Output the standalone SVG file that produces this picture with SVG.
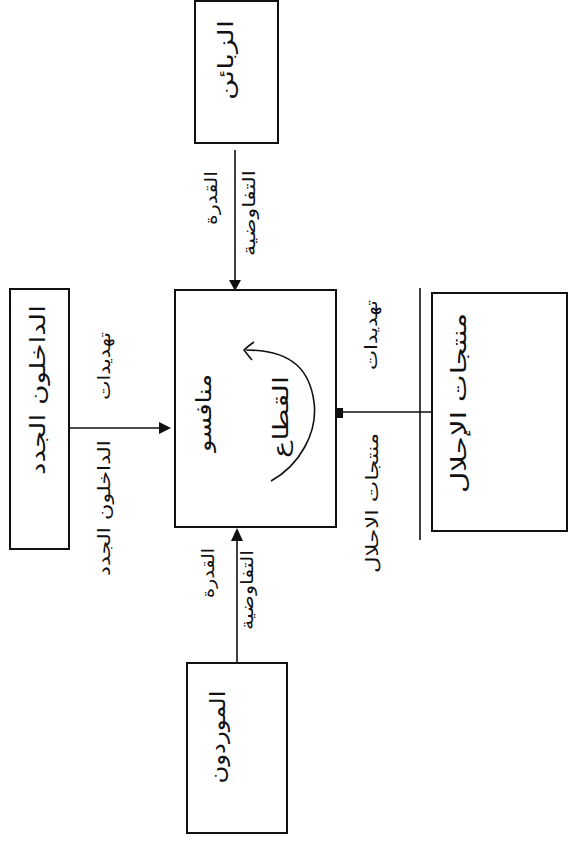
<svg xmlns="http://www.w3.org/2000/svg" width="569" height="843" viewBox="0 0 569 843">
<defs>
<style>
.box{fill:none;stroke:#111;stroke-width:2}
.ln{fill:none;stroke:#111;stroke-width:1.6}
.hd{fill:#111;stroke:none}
.t{font-family:"DejaVu Sans",sans-serif;fill:#111;text-anchor:middle;dominant-baseline:central}
.big{font-size:21px}
.sm{font-size:17px}
</style>
</defs>
<rect width="569" height="843" fill="#fff"/>
<g id="connectors">
<line class="ln" x1="235" y1="150" x2="235" y2="282"/>
<polygon class="hd" points="229,280 241,280 235,291"/>
<line class="ln" x1="69" y1="428" x2="162" y2="428"/>
<polygon class="hd" points="159,422 159,434 171,428"/>
<line class="ln" x1="237" y1="663" x2="237" y2="538"/>
<polygon class="hd" points="231,541 243,541 237,528"/>
<line class="ln" x1="432" y1="412" x2="342" y2="412"/>
<rect class="hd" x="337" y="408" width="6" height="10"/>
</g>
<g id="customers">
<rect class="box" x="195" y="1" width="83" height="142"/>
<text class="t big" transform="translate(226,60) rotate(-90)" textLength="80" lengthAdjust="spacingAndGlyphs">الزبائن</text>
</g>
<g id="customers-label">
<text class="t sm" transform="translate(211,198) rotate(-90)" textLength="54" lengthAdjust="spacingAndGlyphs">القدرة</text>
<text class="t sm" transform="translate(249,213) rotate(-90)" textLength="86" lengthAdjust="spacingAndGlyphs">التفاوضية</text>
</g>
<g id="new-entrants">
<rect class="box" x="10" y="289" width="59" height="260"/>
<text class="t big" transform="translate(38,390) rotate(-90)" textLength="170" lengthAdjust="spacingAndGlyphs">الداخلون الجدد</text>
</g>
<g id="new-entrants-label">
<text class="t sm" transform="translate(104,366) rotate(-90)" textLength="68" lengthAdjust="spacingAndGlyphs">تهديدات</text>
<text class="t sm" transform="translate(104,508) rotate(-90)" textLength="136" lengthAdjust="spacingAndGlyphs">الداخلون الجدد</text>
</g>
<g id="rivals">
<rect class="box" x="175" y="290" width="161" height="237"/>
<text class="t big" transform="translate(204,413) rotate(-90)" textLength="78" lengthAdjust="spacingAndGlyphs">منافسو</text>
<text class="t big" transform="translate(281,417) rotate(-90)" textLength="82" lengthAdjust="spacingAndGlyphs">القطاع</text>
<path class="ln" d="M 271 481 C 300 465 318 432 314 402 C 310 372 294 350 246 350"/>
<path class="ln" d="M 254 342 Q 247 347 244 350 Q 247 354 252 360"/>
</g>
<g id="substitutes">
<line class="ln" x1="420" y1="288" x2="420" y2="540"/>
<rect class="box" x="432" y="293" width="135" height="238"/>
<text class="t big" transform="translate(459,403) rotate(-90)" textLength="180" lengthAdjust="spacingAndGlyphs">منتجات الإحلال</text>
</g>
<g id="substitutes-label">
<text class="t sm" transform="translate(371,335) rotate(-90)" textLength="70" lengthAdjust="spacingAndGlyphs">تهديدات</text>
<text class="t sm" transform="translate(372,503) rotate(-90)" textLength="140" lengthAdjust="spacingAndGlyphs">منتجات الاحلال</text>
</g>
<g id="suppliers-label">
<text class="t sm" transform="translate(208,573) rotate(-90)" textLength="50" lengthAdjust="spacingAndGlyphs">القدرة</text>
<text class="t sm" transform="translate(247,590) rotate(-90)" textLength="80" lengthAdjust="spacingAndGlyphs">التفاوضية</text>
</g>
<g id="suppliers">
<rect class="box" x="187" y="663" width="100" height="170"/>
<text class="t big" transform="translate(218,737) rotate(-90)" textLength="93" lengthAdjust="spacingAndGlyphs">الموردون</text>
</g>
</svg>
